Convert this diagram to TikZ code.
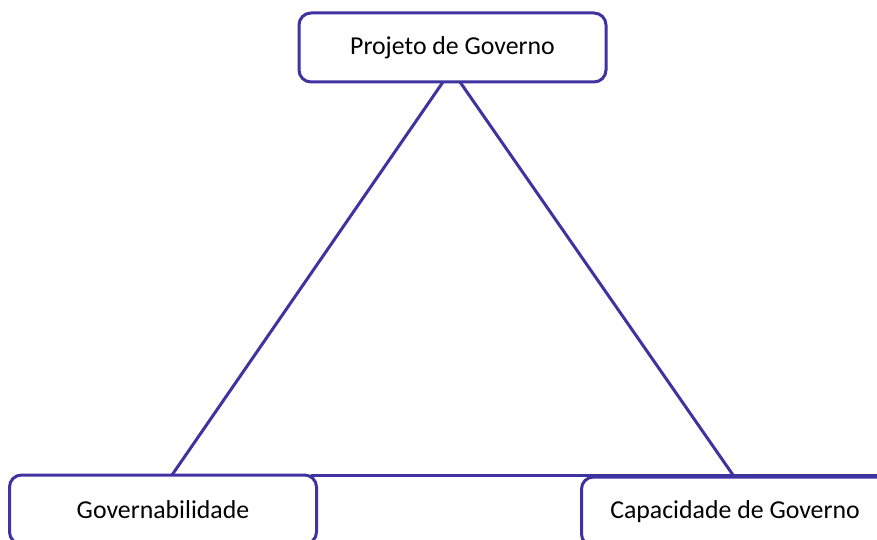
\documentclass[tikz,border=0pt]{standalone}
\usepackage{fontspec}
\setmainfont{Carlito}
\usetikzlibrary{calc}
\definecolor{edge}{RGB}{64,50,160}
\begin{document}
\begin{tikzpicture}[x=1pt,y=-1pt,
  box/.style={draw=edge,line width=3pt,rounded corners=12pt,fill=white,
    minimum width=307pt,minimum height=69pt,inner sep=0pt,outer sep=0pt,
    font=\fontsize{25.8}{30}\selectfont},
  link/.style={draw=edge,line width=3pt}]
\useasboundingbox (0,0) rectangle (877,540);
\clip (0,0) rectangle (877,540);
\node[box] (T) at (452.5,47.5) {Projeto de Governo};
\node[box] (L) at (163,509.5) {Governabilidade};
\node[box] (R) at (735,511.5) {Capacidade de Governo};
\coordinate (E) at (900,475);
\draw[link] ($(T.south)+(-9.5,0)$) -- ($(L.north)+(9,0)$);
\draw[link] ($(T.south)+(7.5,0)$) -- ($(R.north)+(-2,-2)$);
\draw[link] ($(L.north east)+(-6,0)$) -- (L.north east -| E);
\end{tikzpicture}
\end{document}
